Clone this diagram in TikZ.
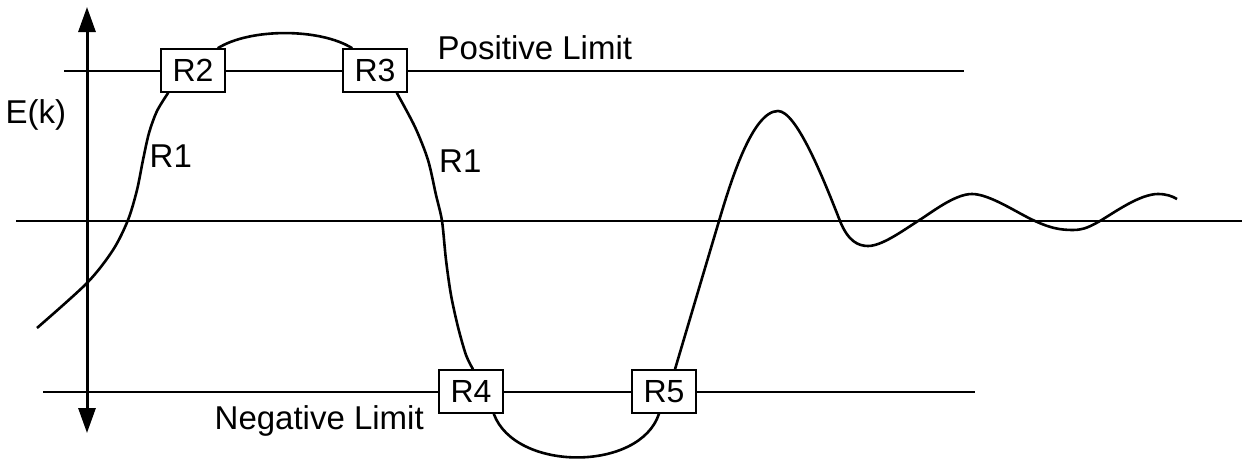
\documentclass[tikz,border=0pt]{standalone}
\usepackage{fontspec}
\setmainfont{Liberation Sans}
\usetikzlibrary{arrows.meta}
\begin{document}
\begin{tikzpicture}[x=1pt,y=-1pt,
  lbl/.style={font=\fontsize{33}{40}\selectfont, inner sep=0pt},
  rbox/.style={draw, fill=white, line width=1.5pt, minimum width=64pt, minimum height=43pt, inner sep=0pt, font=\fontsize{32}{40}\selectfont},
  axisline/.style={line width=3pt},
  limline/.style={line width=2.8pt},
  curve/.style={line width=2.6pt, line join=round}]
\useasboundingbox (0,0) rectangle (1244,458);
% reference lines
\coordinate (pl1) at (64,71); \coordinate (pl2) at (964,71);
\coordinate (nl1) at (43,392); \coordinate (nl2) at (975,392);
\coordinate (h1) at (16,221); \coordinate (h2) at (1242,221);
\coordinate (vtop) at (87,7); \coordinate (vbot) at (87,433);
\draw[limline] (pl1) -- (pl2);
\draw[limline] (nl1) -- (nl2);
\draw[limline] (h1) -- (h2);
\draw[axisline, {Triangle[length=25pt,width=17pt]}-{Triangle[length=25pt,width=17pt]}] (vbot) -- (vtop);
% boxes
\node[rbox] (R2) at (193,70.5) {R2};
\node[rbox] (R3) at (375,70.5) {R3};
\node[rbox] (R4) at (471,391.5) {R4};
\node[rbox] (R5) at (664,391.5) {R5};
% curve attachment points
\coordinate (a2) at ([xshift=8pt]R2.south west);
\coordinate (b1) at ([xshift=-8pt]R2.north east);
\coordinate (b2) at ([xshift=10pt]R3.north west);
\coordinate (c1) at ([xshift=-11pt]R3.south east);
\coordinate (c2) at ([xshift=2pt]R4.north);
\coordinate (d1) at ([xshift=-10pt]R4.south east);
\coordinate (d2) at ([xshift=-5pt]R5.south);
\coordinate (e1) at ([xshift=11pt]R5.north);
% curve
\draw[curve] plot[smooth] coordinates {(37,328) (87,283) (113,250) (128,220) (137,190) (143,160) (149,133) (157,111) (a2)};
\draw[curve] (b1) .. controls (250,28) and (320,28) .. (b2);
\draw[curve] plot[smooth] coordinates {(c1) (415,127) (428,160) (436,195) (442,221) (446,260) (451,295) (458,327) (466,355) (c2)};
\draw[curve] (d1) .. controls (515,472) and (640,472) .. (d2);
\draw[curve] (e1) .. controls (689,322) and (705,268) .. (719,221)
  .. controls (730,184) and (752,111) .. (778,111)
  .. controls (796,111) and (822,175) .. (840,221)
  .. controls (848,241) and (858,246) .. (868,246)
  .. controls (882,246) and (903,230.5) .. (918,221)
  .. controls (933,211.5) and (955,194) .. (972,194)
  .. controls (990,194) and (1018,213.5) .. (1035,221)
  .. controls (1050,228) and (1060,230) .. (1073,230)
  .. controls (1084,230) and (1091,226) .. (1100,221)
  .. controls (1115,212) and (1140,194) .. (1158,194)
  .. controls (1166,194) and (1172,196) .. (1177,199);
% labels
\node[lbl, anchor=base west] (ek) at (5.4,123.5) {E(k)};
\node[lbl, anchor=base west] (r1a) at (149.5,167) {R1};
\node[lbl, anchor=base west] (r1b) at (439,172) {R1};
\node[lbl, anchor=base west] (pos) at (437.5,59.5) {Positive Limit};
\node[lbl, anchor=base west] (neg) at (214.5,429.5) {Negative Limit};
\end{tikzpicture}
\end{document}
